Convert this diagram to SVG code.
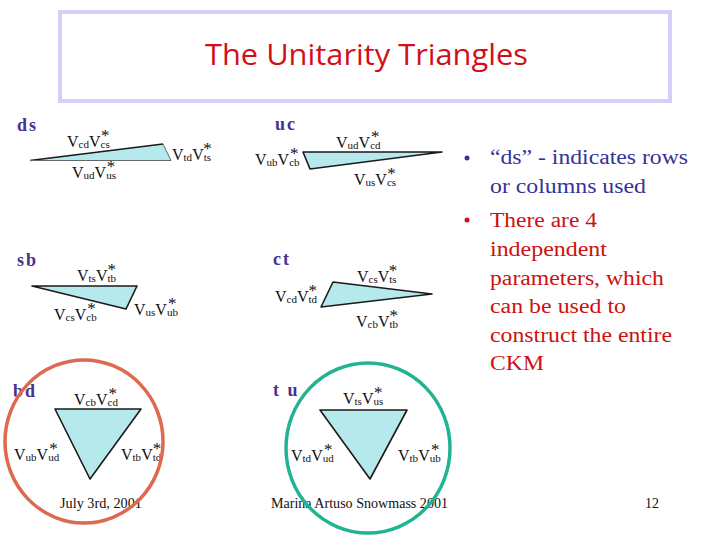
<svg xmlns="http://www.w3.org/2000/svg" width="720" height="540" viewBox="0 0 720 540">
<style>
.v{font-family:"Liberation Serif","Times New Roman",serif;font-size:16px;fill:#111}
.s{font-size:11px}
.st{font-size:17px}
.sec{font-family:"Liberation Serif","Times New Roman",serif;font-size:18px;font-weight:bold;fill:#4a3090;letter-spacing:2px}
.tri{fill:#b6e9ec;stroke:none}
.edge{fill:none;stroke:#1a1a1a;stroke-width:1.6;stroke-linejoin:round}
.edgel{fill:none;stroke:#666;stroke-width:1}
.b1{font-family:"Liberation Serif","Times New Roman",serif;font-size:20px;fill:#333399}
.b2{font-family:"Liberation Serif","Times New Roman",serif;font-size:20px;fill:#cc1111}
.ft{font-family:"Liberation Serif","Times New Roman",serif;font-size:14px;fill:#111}
</style>
<rect x="0" y="0" width="720" height="540" fill="#ffffff"/>
<g id="title">
<rect x="60" y="12" width="610" height="89" fill="#ffffff" stroke="#d0d0f8" stroke-width="4"/>
<text x="205" y="65" textLength="323" lengthAdjust="spacingAndGlyphs" style="font-family:'Open Sans','Noto Sans',sans-serif;font-size:29px;fill:#d01018">The Unitarity Triangles</text>
</g>

<g id="ds">
<text class="sec" x="17" y="131">ds</text>
<polygon class="tri" points="30,160.5 163,144 171,160.5"/>
<polyline class="edge" points="30,160.5 163,144"/>
<polyline class="edgel" points="163,144 171,160.5 30,160.5"/>
<text class="v" x="67" y="147">V<tspan class="s" dy="1">cd</tspan><tspan dy="-1">V</tspan><tspan class="s" dy="1">cs</tspan><tspan class="st" dx="-8.8" dy="-7">*</tspan></text>
<text class="v" x="172" y="160">V<tspan class="s" dy="1">td</tspan><tspan dy="-1">V</tspan><tspan class="s" dy="1">ts</tspan><tspan class="st" dx="-7.9" dy="-7">*</tspan></text>
<text class="v" x="72" y="178">V<tspan class="s" dy="1">ud</tspan><tspan dy="-1">V</tspan><tspan class="s" dy="1">us</tspan><tspan class="st" dx="-9.2" dy="-7">*</tspan></text>
</g>

<g id="uc">
<text class="sec" x="275" y="130">uc</text>
<polygon class="tri" points="303,152 442,152 310,169"/>
<polygon class="edge" points="303,152 442,152 310,169"/>
<text class="v" x="336" y="148">V<tspan class="s" dy="1">ud</tspan><tspan dy="-1">V</tspan><tspan class="s" dy="1">cd</tspan><tspan class="st" dx="-9.5" dy="-7">*</tspan></text>
<text class="v" x="255" y="165">V<tspan class="s" dy="1">ub</tspan><tspan dy="-1">V</tspan><tspan class="s" dy="1">cb</tspan><tspan class="st" dx="-9.5" dy="-7">*</tspan></text>
<text class="v" x="354" y="185">V<tspan class="s" dy="1">us</tspan><tspan dy="-1">V</tspan><tspan class="s" dy="1">cs</tspan><tspan class="st" dx="-8.8" dy="-7">*</tspan></text>
</g>

<g id="sb">
<text class="sec" x="17" y="266">sb</text>
<polygon class="tri" points="32,286 137,286 126,309"/>
<polygon class="edge" points="32,286 137,286 126,309"/>
<text class="v" x="77" y="281">V<tspan class="s" dy="1">ts</tspan><tspan dy="-1">V</tspan><tspan class="s" dy="1">tb</tspan><tspan class="st" dx="-8.6" dy="-7">*</tspan></text>
<text class="v" x="54" y="320">V<tspan class="s" dy="1">cs</tspan><tspan dy="-1">V</tspan><tspan class="s" dy="1">cb</tspan><tspan class="st" dx="-9.5" dy="-7">*</tspan></text>
<text class="v" x="134" y="315">V<tspan class="s" dy="1">us</tspan><tspan dy="-1">V</tspan><tspan class="s" dy="1">ub</tspan><tspan class="st" dx="-9.8" dy="-7">*</tspan></text>
</g>

<g id="ct">
<text class="sec" x="273" y="265">ct</text>
<polygon class="tri" points="333,282 432,294 321,307"/>
<polygon class="edge" points="333,282 432,294 321,307"/>
<text class="v" x="357" y="282">V<tspan class="s" dy="1">cs</tspan><tspan dy="-1">V</tspan><tspan class="s" dy="1">ts</tspan><tspan class="st" dx="-7.9" dy="-7">*</tspan></text>
<text class="v" x="275" y="302">V<tspan class="s" dy="1">cd</tspan><tspan dy="-1">V</tspan><tspan class="s" dy="1">td</tspan><tspan class="st" dx="-8.6" dy="-7">*</tspan></text>
<text class="v" x="356" y="327">V<tspan class="s" dy="1">cb</tspan><tspan dy="-1">V</tspan><tspan class="s" dy="1">tb</tspan><tspan class="st" dx="-8.6" dy="-7">*</tspan></text>
</g>

<g id="bd">
<text class="sec" x="13" y="397">bd</text>
<polygon class="tri" points="55,409 141,409 90,479"/>
<polygon class="edge" points="55,409 141,409 90,479"/>
<text class="v" x="74" y="405">V<tspan class="s" dy="1">cb</tspan><tspan dy="-1">V</tspan><tspan class="s" dy="1">cd</tspan><tspan class="st" dx="-9.5" dy="-7">*</tspan></text>
<text class="v" x="14" y="460">V<tspan class="s" dy="1">ub</tspan><tspan dy="-1">V</tspan><tspan class="s" dy="1">ud</tspan><tspan class="st" dx="-9.8" dy="-7">*</tspan></text>
<text class="v" x="121" y="460">V<tspan class="s" dy="1">tb</tspan><tspan dy="-1">V</tspan><tspan class="s" dy="1">td</tspan><tspan class="st" dx="-8.6" dy="-7">*</tspan></text>
</g>

<g id="tu">
<text class="sec" x="273" y="396">t u</text>
<polygon class="tri" points="320,410 407,410 370,479"/>
<polygon class="edge" points="320,410 407,410 370,479"/>
<text class="v" x="343" y="404">V<tspan class="s" dy="1">ts</tspan><tspan dy="-1">V</tspan><tspan class="s" dy="1">us</tspan><tspan class="st" dx="-9.2" dy="-7">*</tspan></text>
<text class="v" x="291" y="461">V<tspan class="s" dy="1">td</tspan><tspan dy="-1">V</tspan><tspan class="s" dy="1">ud</tspan><tspan class="st" dx="-9.8" dy="-7">*</tspan></text>
<text class="v" x="398" y="461">V<tspan class="s" dy="1">tb</tspan><tspan dy="-1">V</tspan><tspan class="s" dy="1">ub</tspan><tspan class="st" dx="-9.8" dy="-7">*</tspan></text>
</g>

<g id="bullets">
<circle cx="467" cy="158" r="2.5" fill="#333399"/>
<text class="b1" x="490" y="164" textLength="198" lengthAdjust="spacingAndGlyphs">“ds” - indicates rows</text>
<text class="b1" x="490" y="193" textLength="156" lengthAdjust="spacingAndGlyphs">or columns used</text>
<circle cx="467" cy="220" r="2.5" fill="#cc1111"/>
<text class="b2" x="490" y="227" textLength="107" lengthAdjust="spacingAndGlyphs">There are 4</text>
<text class="b2" x="490" y="256" textLength="117" lengthAdjust="spacingAndGlyphs">independent</text>
<text class="b2" x="490" y="285" textLength="174" lengthAdjust="spacingAndGlyphs">parameters, which</text>
<text class="b2" x="490" y="313" textLength="136" lengthAdjust="spacingAndGlyphs">can be used to</text>
<text class="b2" x="490" y="342" textLength="182" lengthAdjust="spacingAndGlyphs">construct the entire</text>
<text class="b2" x="490" y="370" textLength="54" lengthAdjust="spacingAndGlyphs">CKM</text>
</g>

<g id="footer">
<text class="ft" x="60" y="508" textLength="82" lengthAdjust="spacingAndGlyphs">July 3rd, 2001</text>
<text class="ft" x="271" y="508" textLength="177" lengthAdjust="spacingAndGlyphs">Marina Artuso Snowmass 2001</text>
<text class="ft" x="645" y="508">12</text>
</g>

<g id="highlights">
<ellipse cx="84" cy="441.5" rx="79" ry="81.5" fill="none" stroke="#dd6a50" stroke-width="3.5"/>
<ellipse cx="368" cy="448" rx="82" ry="85" fill="none" stroke="#22b393" stroke-width="3.5"/>
</g>
</svg>
